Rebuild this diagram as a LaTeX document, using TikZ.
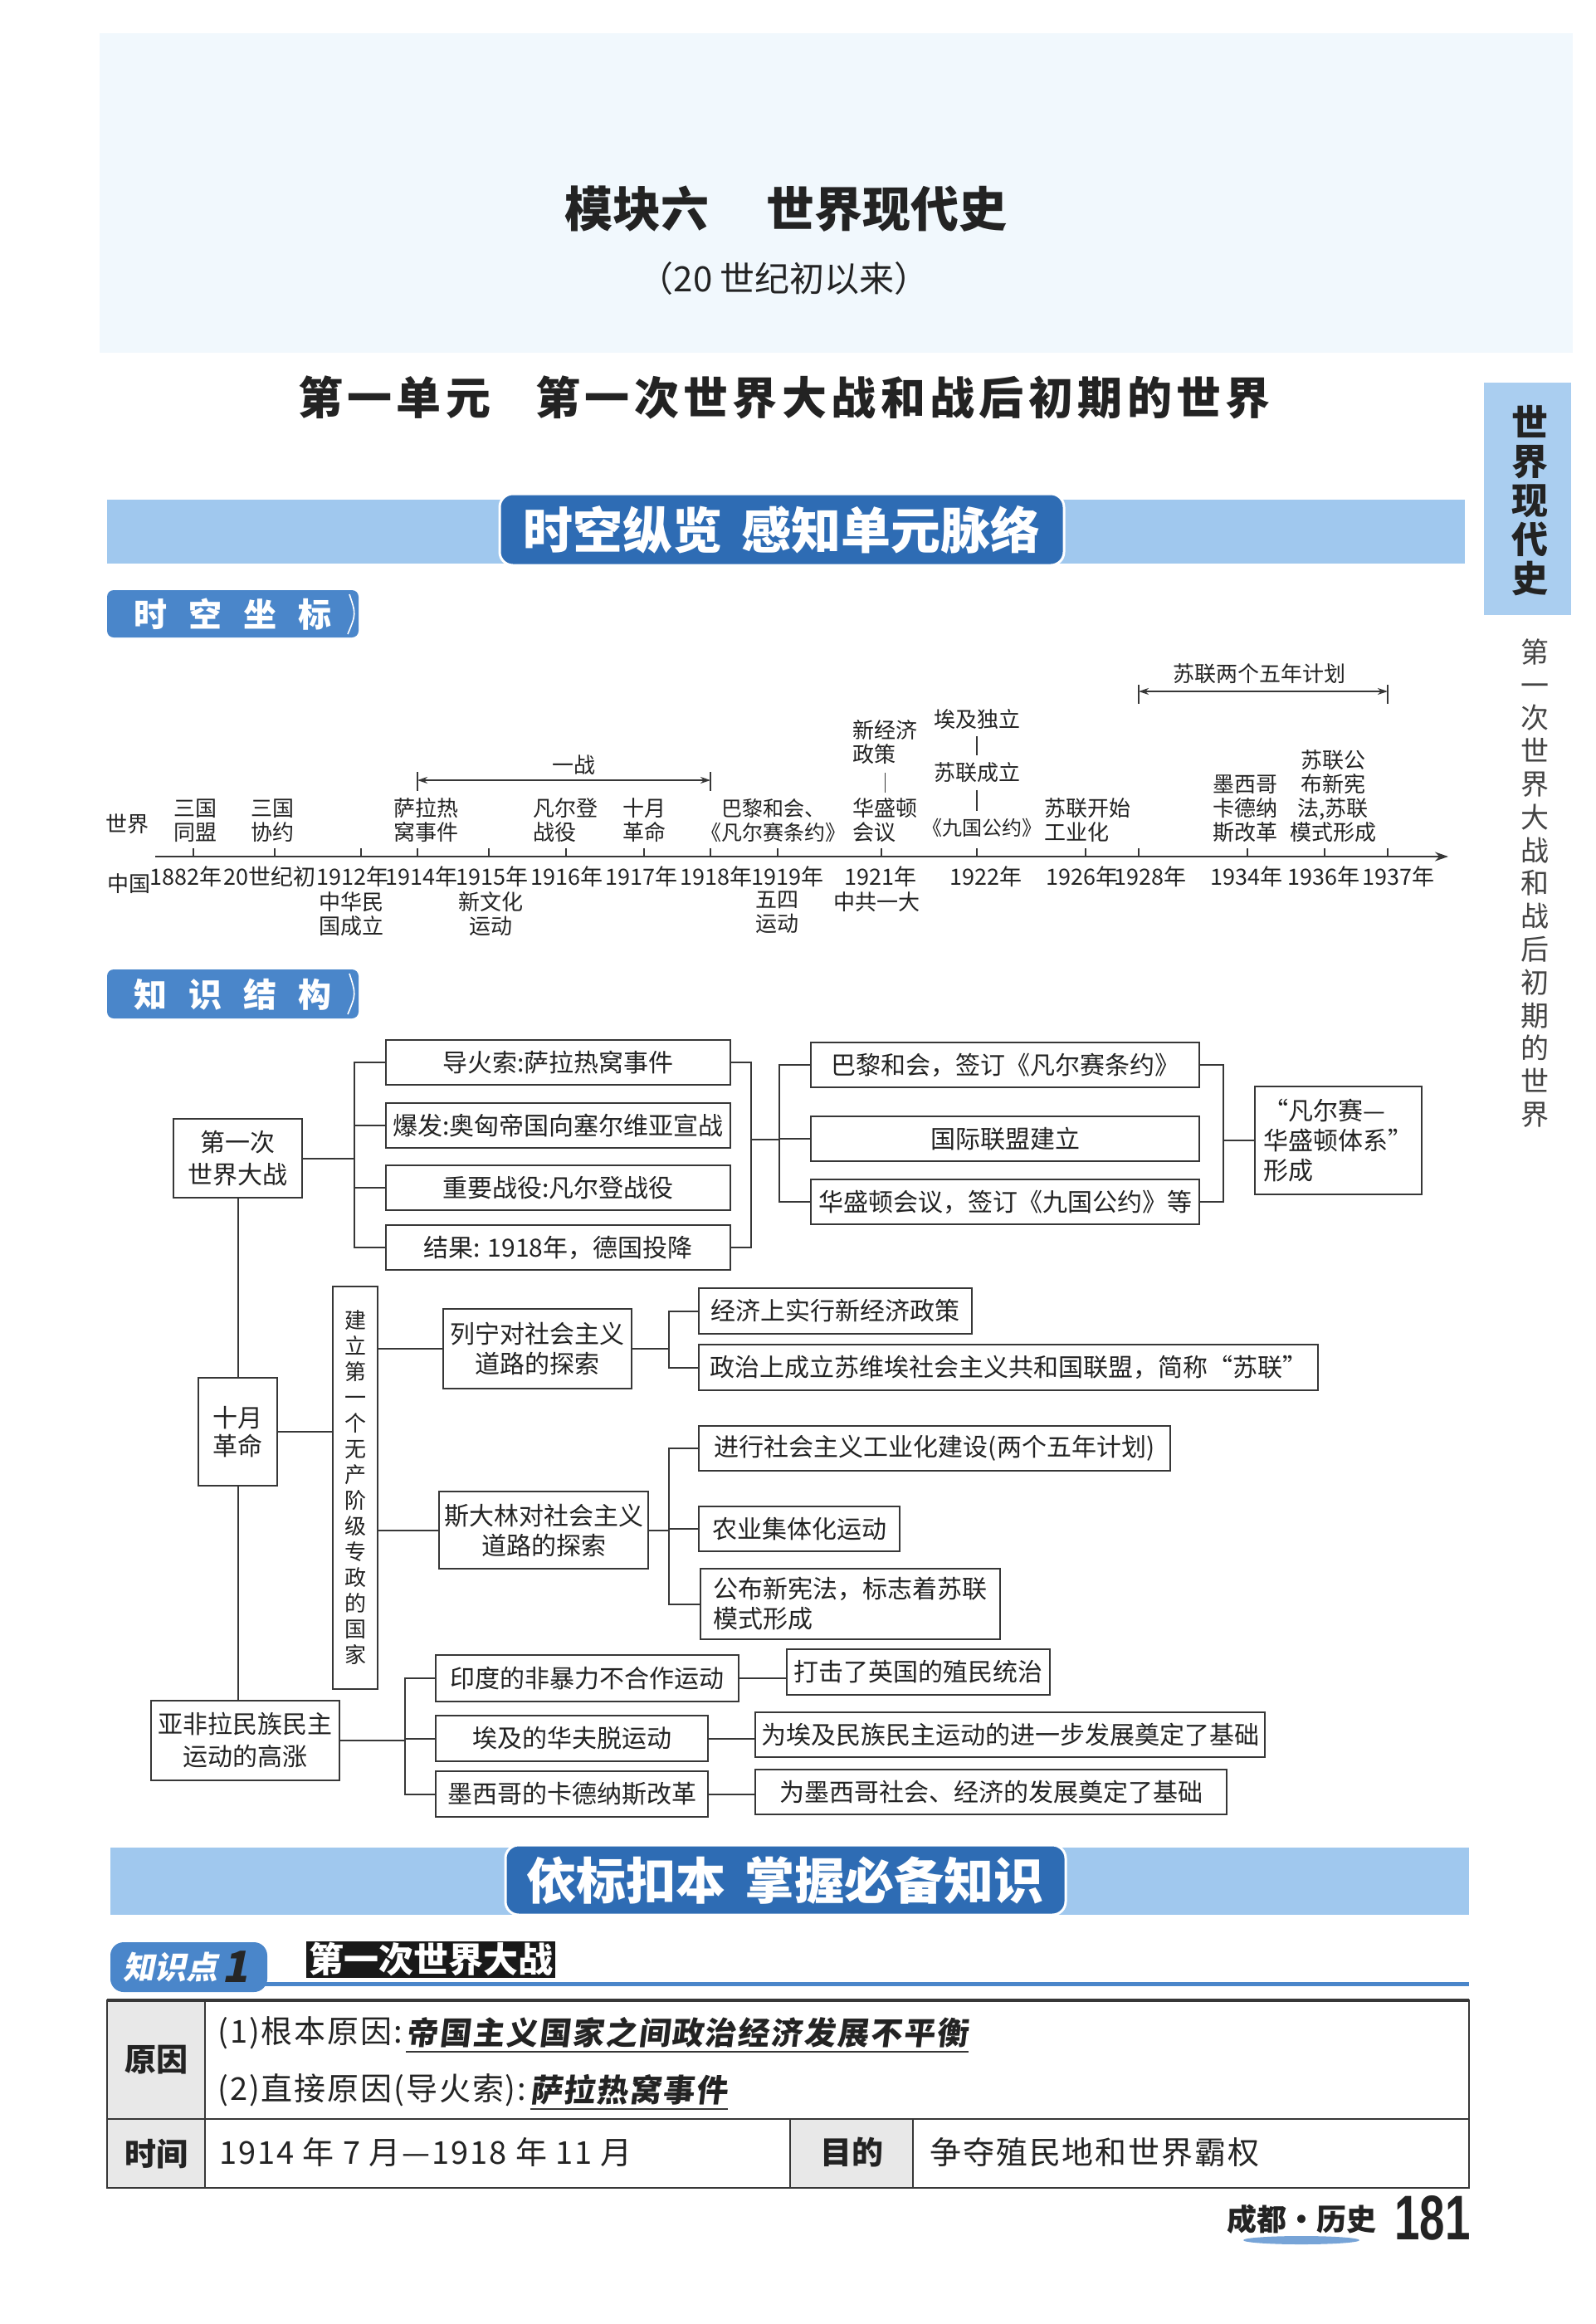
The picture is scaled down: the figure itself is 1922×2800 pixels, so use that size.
\documentclass[tikz,border=0pt]{standalone}
\usepackage{fontspec}
\setmainfont{Noto Sans CJK SC}
\newfontfamily\slantcjk[FakeSlant=0.2]{Noto Sans CJK SC}
\newfontfamily\handcjk[FakeSlant=0.12]{Noto Sans CJK SC}
\newfontfamily\numfont[FakeStretch=0.72]{Liberation Sans}
\usetikzlibrary{arrows.meta}
\definecolor{linec}{RGB}{55,55,55}
\definecolor{txtc}{RGB}{35,35,35}
\definecolor{bandblue}{RGB}{160,200,238}
\definecolor{darkblue}{RGB}{46,108,180}
\definecolor{tabblue}{RGB}{74,134,202}
\definecolor{headbg}{RGB}{241,248,253}
\definecolor{sidebg}{RGB}{170,206,240}
\definecolor{cellgray}{RGB}{232,232,232}
\begin{document}
\begin{tikzpicture}[x=0.5pt,y=-0.5pt,
  box/.style={draw=linec, line width=1pt, inner sep=0pt, align=center, text=txtc, font=\fontsize{15}{18}\selectfont},
  conn/.style={draw=linec, line width=1pt},
  tl/.style={inner sep=0pt, align=center, text=txtc, font=\fontsize{13}{14.5}\selectfont},
  yr/.style={inner sep=0pt, text=txtc, font=\fontsize{13.5}{15}\selectfont},
  tick/.style={draw=linec, line width=0.8pt},
  spanarrow/.style={draw=linec, line width=0.8pt, {Stealth[length=6pt,width=4pt]}-{Stealth[length=6pt,width=4pt]}},
  bannerbox/.style={fill=darkblue, draw=white, line width=1.5pt, rounded corners=8pt},
  bannertext/.style={text=white, font=\fontsize{30}{32}\selectfont\bfseries, inner sep=0pt},
  tabtext/.style={text=white, font=\fontsize{20}{22}\selectfont\bfseries, inner sep=0pt},
  tbltext/.style={text=txtc, inner sep=0pt, anchor=west, font=\fontsize{19}{22}\selectfont\addfontfeature{LetterSpace=5}},
  handtext/.style={text=txtc, inner sep=0pt, anchor=west, font=\handcjk\fontsize{19}{22}\selectfont\bfseries\addfontfeature{LetterSpace=5}},
  tblhead/.style={text=txtc, inner sep=0pt, font=\fontsize{19}{22}\selectfont\bfseries},
]
\useasboundingbox (0,0) rectangle (1922,2800);
\fill[white] (0,0) rectangle (1922,2800);

% ---------- header ----------
\fill[headbg] (120,40) rectangle (1895,425);
\node[text=txtc, font=\fontsize{29}{32}\selectfont\bfseries, inner sep=0pt] (title) at (947,252) {模块六\hspace{1.2em}世界现代史};
\node[text=txtc, font=\fontsize{21}{24}\selectfont, inner sep=0pt] (subtitle) at (945,336) {（20 世纪初以来）};
\node[text=txtc, font=\fontsize{27}{30}\selectfont\bfseries, inner sep=0pt] (unit) at (945,479) {\addfontfeature{LetterSpace=10}第一单元\hspace{1em}第一次世界大战和战后初期的世界};

% ---------- side tab ----------
\fill[sidebg] (1788,461) rectangle (1893,741);
\node[text=txtc, font=\fontsize{22}{23.5}\selectfont\bfseries, align=center, inner sep=0pt] (sidetab) at (1843,603) {世\\界\\现\\代\\史};
\node[text=txtc!85, font=\fontsize{17}{19.9}\selectfont, align=center, inner sep=0pt] (sidetext) at (1849,1064) {第\\一\\次\\世\\界\\大\\战\\和\\战\\后\\初\\期\\的\\世\\界};

% ---------- banner 1 ----------
\fill[bandblue] (129,602) rectangle (1765,679);
\draw[bannerbox] (602,595) rectangle (1282,681);
\node[bannertext] (ban1) at (942,638) {时空纵览\hspace{0.4em}感知单元脉络};

% ---------- tab: 时空坐标 ----------
\fill[tabblue, rounded corners=4pt] (129,711) rectangle (432,768);
\draw[white, line width=0.8pt] (421,716) .. controls (429,740) .. (419,764);
\node[tabtext] (tab1) at (280,740) {时\hspace{13pt}空\hspace{13pt}坐\hspace{13pt}标};

% ---------- timeline ----------
\coordinate (axL) at (187,1032);
\coordinate (axR) at (1745,1032);
\draw[linec, line width=1pt, -{Stealth[length=8pt,width=5.5pt]}] (axL) -- (axR);
\foreach \x in {233,331,435,503,589,682,776,856,937,1062,1177,1308,1372,1503,1596,1672}
  \draw[tick] (\x,1022) -- (\x,1032);

% spans
\coordinate (wwA) at (503,940);
\coordinate (wwB) at (856,940);
\draw[spanarrow] (wwA) -- (wwB);
\draw[tick] (503,930) -- (503,953);
\draw[tick] (856,930) -- (856,953);
\node[tl] (yizhan) at (691,922) {一战};
\coordinate (fyA) at (1372,833);
\coordinate (fyB) at (1672,833);
\draw[spanarrow] (fyA) -- (fyB);
\draw[tick] (1372,825) -- (1372,848);
\draw[tick] (1672,825) -- (1672,848);
\node[tl] (wunian) at (1517,812) {苏联两个五年计划};

% world labels
\node[tl] (shijie) at (153,993) {世界};
\node[tl, anchor=south] (e1) at (235,1015) {三国\\同盟};
\node[tl, anchor=south] (e2) at (328,1015) {三国\\协约};
\node[tl, anchor=south] (e3) at (513,1015) {萨拉热\\窝事件};
\node[tl, anchor=south west, align=left] (e4) at (642,1015) {凡尔登\\战役};
\node[tl, anchor=south] (e5) at (776,1015) {十月\\革命};
\node[tl, anchor=south, font=\fontsize{12.5}{14.5}\selectfont] (e6) at (932,1015) {巴黎和会、\\《凡尔赛条约》};
\node[tl, anchor=south west, align=left] (hsd) at (1027,1015) {华盛顿\\会议};
\node[tl, anchor=south west, align=left] (xjj) at (1027,921) {新经济\\政策};
\draw[tick, shorten <=5pt, shorten >=3pt] (xjj.south) -- (hsd.north);
\node[tl, font=\fontsize{12}{14}\selectfont] (jgyue) at (1183,997) {《九国公约》};
\node[tl] (sulian) at (1177,931) {苏联成立};
\node[tl] (aiji) at (1177,867) {埃及独立};
\draw[tick, shorten <=4pt, shorten >=4pt] (aiji.south) -- (sulian.north);
\draw[tick, shorten <=4pt, shorten >=4pt] (sulian.south) -- (sulian.south |- jgyue.north);
\node[tl, anchor=south west, align=left] (e9) at (1258,1015) {苏联开始\\工业化};
\node[tl, anchor=south] (e10) at (1500,1015) {墨西哥\\卡德纳\\斯改革};
\node[tl, anchor=south] (e11) at (1606,1015) {苏联公\\布新宪\\法,苏联\\模式形成};

% china labels
\node[tl] (zhongguo) at (155,1065) {中国};
\node[yr] (y1) at (224,1056) {1882年};
\node[yr] (y2) at (325,1056) {20世纪初};
\node[yr] (y3) at (425,1056) {1912年};
\node[yr] (y4) at (508,1056) {1914年};
\node[yr] (y5) at (593,1056) {1915年};
\node[yr] (y6) at (683,1056) {1916年};
\node[yr] (y7) at (773,1056) {1917年};
\node[yr] (y8) at (863,1056) {1918年};
\node[yr] (y9) at (949,1056) {1919年};
\node[yr] (y10) at (1061,1056) {1921年};
\node[yr] (y11) at (1188,1056) {1922年};
\node[yr] (y12) at (1304,1056) {1926年};
\node[yr] (y13) at (1386,1056) {1928年};
\node[yr] (y14) at (1502,1056) {1934年};
\node[yr] (y15) at (1595,1056) {1936年};
\node[yr] (y16) at (1685,1056) {1937年};
\node[tl, anchor=north] (c1912) at (423,1074) {中华民\\国成立};
\node[tl, anchor=north] (c1915) at (591,1074) {新文化\\运动};
\node[tl, anchor=north] (c1919) at (936,1074) {五四\\运动};
\node[tl, anchor=north] (c1921) at (1056,1074) {中共一大};

% ---------- tab: 知识结构 ----------
\fill[tabblue, rounded corners=4pt] (129,1168) rectangle (432,1227);
\draw[white, line width=0.8pt] (421,1173) .. controls (429,1198) .. (419,1222);
\node[tabtext] (tab2) at (280,1198) {知\hspace{13pt}识\hspace{13pt}结\hspace{13pt}构};

% ---------- knowledge structure ----------
\node[box, minimum width=77.5pt, minimum height=47.5pt, font=\fontsize{15}{19.5}\selectfont] (ww1) at (286.5,1395.5) {第一次\\世界大战};
\node[box, minimum width=47.5pt, minimum height=65pt, font=\fontsize{15}{17}\selectfont] (oct) at (286.5,1725) {十月\\革命};
\node[box, minimum width=113.5pt, minimum height=48pt, font=\fontsize{15}{19.5}\selectfont] (afl) at (295.5,2097) {亚非拉民族民主\\运动的高涨};

\node[box, minimum width=207.5pt, minimum height=27pt] (a1) at (672.5,1280) {导火索:萨拉热窝事件};
\node[box, minimum width=207.5pt, minimum height=27pt] (a2) at (672.5,1356) {爆发:奥匈帝国向塞尔维亚宣战};
\node[box, minimum width=207.5pt, minimum height=27pt] (a3) at (672.5,1431) {重要战役:凡尔登战役};
\node[box, minimum width=207.5pt, minimum height=27pt] (a4) at (672.5,1503) {结果: 1918年，德国投降};

\node[box, minimum width=234pt, minimum height=27pt] (c1) at (1211,1283) {巴黎和会，签订《凡尔赛条约》};
\node[box, minimum width=234pt, minimum height=27pt] (c2) at (1211,1372) {国际联盟建立};
\node[box, minimum width=234pt, minimum height=27pt] (c3) at (1211,1448) {华盛顿会议，签订《九国公约》等};
\node[box, minimum width=100.5pt, minimum height=65pt, align=left] (vs) at (1612.5,1374) {“凡尔赛—\\华盛顿体系”\\形成};

\node[box, minimum width=27pt, minimum height=242.5pt, font=\fontsize{13}{15.5}\selectfont] (tb) at (428,1792.5) {建\\立\\第\\一\\个\\无\\产\\阶\\级\\专\\政\\的\\国\\家};
\node[box, minimum width=113.5pt, minimum height=48pt] (L) at (647.5,1625) {列宁对社会主义\\道路的探索};
\node[box, minimum width=126pt, minimum height=46.5pt] (S) at (655,1843.5) {斯大林对社会主义\\道路的探索};
\node[box, minimum width=164.5pt, minimum height=27.5pt] (l1) at (1006.5,1579.5) {经济上实行新经济政策};
\node[box, minimum width=373pt, minimum height=27.5pt] (l2) at (1215,1647.5) {政治上成立苏维埃社会主义共和国联盟，简称“苏联”};
\node[box, minimum width=284pt, minimum height=27pt] (s1) at (1126,1745) {进行社会主义工业化建设(两个五年计划)};
\node[box, minimum width=121pt, minimum height=27pt] (s2) at (963,1842) {农业集体化运动};
\node[box, minimum width=180.5pt, minimum height=42.5pt, align=left] (s3) at (1024.5,1932.5) {公布新宪法，标志着苏联\\模式形成};

\node[box, minimum width=182.5pt, minimum height=28pt] (p1) at (707.5,2022) {印度的非暴力不合作运动};
\node[box, minimum width=164pt, minimum height=27.5pt] (p2) at (689,2094.5) {埃及的华夫脱运动};
\node[box, minimum width=164pt, minimum height=27.5pt] (p3) at (689,2161.5) {墨西哥的卡德纳斯改革};
\node[box, minimum width=158.5pt, minimum height=27.5pt] (q1) at (1106.5,2014.5) {打击了英国的殖民统治};
\node[box, minimum width=307pt, minimum height=27pt] (q2) at (1217,2090) {为埃及民族民主运动的进一步发展奠定了基础};
\node[box, minimum width=284pt, minimum height=27pt] (q3) at (1194,2159) {为墨西哥社会、经济的发展奠定了基础};

% connectors
\coordinate (jA) at (427,1395.5);
\draw[conn] (ww1.east) -- (jA);
\foreach \n in {a1,a2,a3,a4} \draw[conn] (\n.west) -| (jA);
\coordinate (jR1) at (905,1373);
\draw[conn] (a1.east) -| (jR1);
\draw[conn] (a4.east) -| (jR1);
\coordinate (jR2) at (939,1373);
\draw[conn] (jR1) -- (jR2);
\foreach \n in {c1,c2,c3} \draw[conn] (\n.west) -| (jR2);
\coordinate (jR3) at (1474,1374);
\draw[conn] (c1.east) -| (jR3);
\draw[conn] (c3.east) -| (jR3);
\draw[conn] (jR3) -- (vs.west);

\draw[conn] (ww1.south) -- (oct.north);
\draw[conn] (oct.south) -- (oct.south |- afl.north);
\draw[conn] (oct.east) -- (oct.east -| tb.west);
\draw[conn] (L.west -| tb.east) -- (L.west);
\draw[conn] (S.west -| tb.east) -- (S.west);
\coordinate (jL) at (806,1625);
\draw[conn] (L.east) -- (jL);
\foreach \n in {l1,l2} \draw[conn] (\n.west) -| (jL);
\coordinate (jS) at (806,1843.5);
\draw[conn] (S.east) -- (jS);
\foreach \n in {s1,s2,s3} \draw[conn] (\n.west) -| (jS);
\coordinate (jP) at (488,2097);
\draw[conn] (afl.east) -- (jP);
\foreach \n in {p1,p2,p3} \draw[conn] (\n.west) -| (jP);
\draw[conn] (p1.east) -- (p1.east -| q1.west);
\draw[conn] (p2.east) -- (p2.east -| q2.west);
\draw[conn] (p3.east) -- (p3.east -| q3.west);

% ---------- banner 2 ----------
\fill[bandblue] (133,2226) rectangle (1770,2307);
\draw[bannerbox] (609,2223) rectangle (1284,2307);
\node[bannertext] (ban2) at (946,2265) {依标扣本\hspace{0.4em}掌握必备知识};

% ---------- knowledge point 1 ----------
\fill[tabblue, rounded corners=8pt] (133,2340) rectangle (322,2400);
\fill[tabblue] (300,2388) rectangle (1770,2393);
\node[text=white, inner sep=0pt, anchor=west, font=\slantcjk\fontsize{19}{22}\selectfont\bfseries] (kp) at (148,2370) {知识点};
\node[text=black!85, inner sep=0pt, anchor=west, font=\slantcjk\fontsize{26}{26}\selectfont\bfseries] (kpnum) at ([xshift=2pt]kp.east) {1};
\fill[black!90] (369,2339) rectangle (669,2383);
\node[text=white, font=\fontsize{21}{22}\selectfont\bfseries, inner sep=0pt] (kp1) at (519,2361) {第一次世界大战};

% ---------- table ----------
\fill[cellgray] (129,2410) rectangle (247,2636);
\fill[cellgray] (952,2553) rectangle (1100,2636);
\draw[linec, line width=1pt] (129,2410) rectangle (1770,2636);
\draw[linec, line width=2pt] (129,2410) -- (1770,2410);
\draw[linec, line width=1pt] (247,2410) -- (247,2636);
\draw[linec, line width=1pt] (129,2553) -- (1770,2553);
\draw[linec, line width=1pt] (952,2553) -- (952,2636);
\draw[linec, line width=1pt] (1100,2553) -- (1100,2636);
\node[tblhead] (yuanyin) at (188,2482) {原因};
\node[tblhead] (shijian) at (188,2595) {时间};
\node[tblhead] (mudi) at (1026,2593) {目的};
\node[tbltext] (r1a) at (262,2449) {(1)根本原因:};
\node[handtext] (r1b) at ([xshift=2pt]r1a.east) {帝国主义国家之间政治经济发展不平衡};
\draw[linec, line width=0.8pt] ([yshift=-2pt]r1b.south west) -- ([yshift=-2pt]r1b.south east);
\node[tbltext] (r2a) at (262,2518) {(2)直接原因(导火索):};
\node[handtext] (r2b) at ([xshift=2pt]r2a.east) {萨拉热窝事件};
\draw[linec, line width=0.8pt] ([yshift=-2pt]r2b.south west) -- ([yshift=-2pt]r2b.south east);
\node[tbltext] (time) at (264,2593) {1914 年 7 月—1918 年 11 月};
\node[tbltext] (goal) at (1120,2593) {争夺殖民地和世界霸权};

% ---------- footer ----------
\node[text=txtc, font=\fontsize{18}{20}\selectfont\bfseries, inner sep=0pt] (foot) at (1568,2674) {成都·历史};
\node[text=txtc, font=\numfont\fontsize{38}{40}\selectfont\bfseries, inner sep=0pt] (page) at (1726,2672) {181};
\fill[tabblue!75] (1568,2699) ellipse [x radius=35pt, y radius=2.5pt];
\end{tikzpicture}
\end{document}
